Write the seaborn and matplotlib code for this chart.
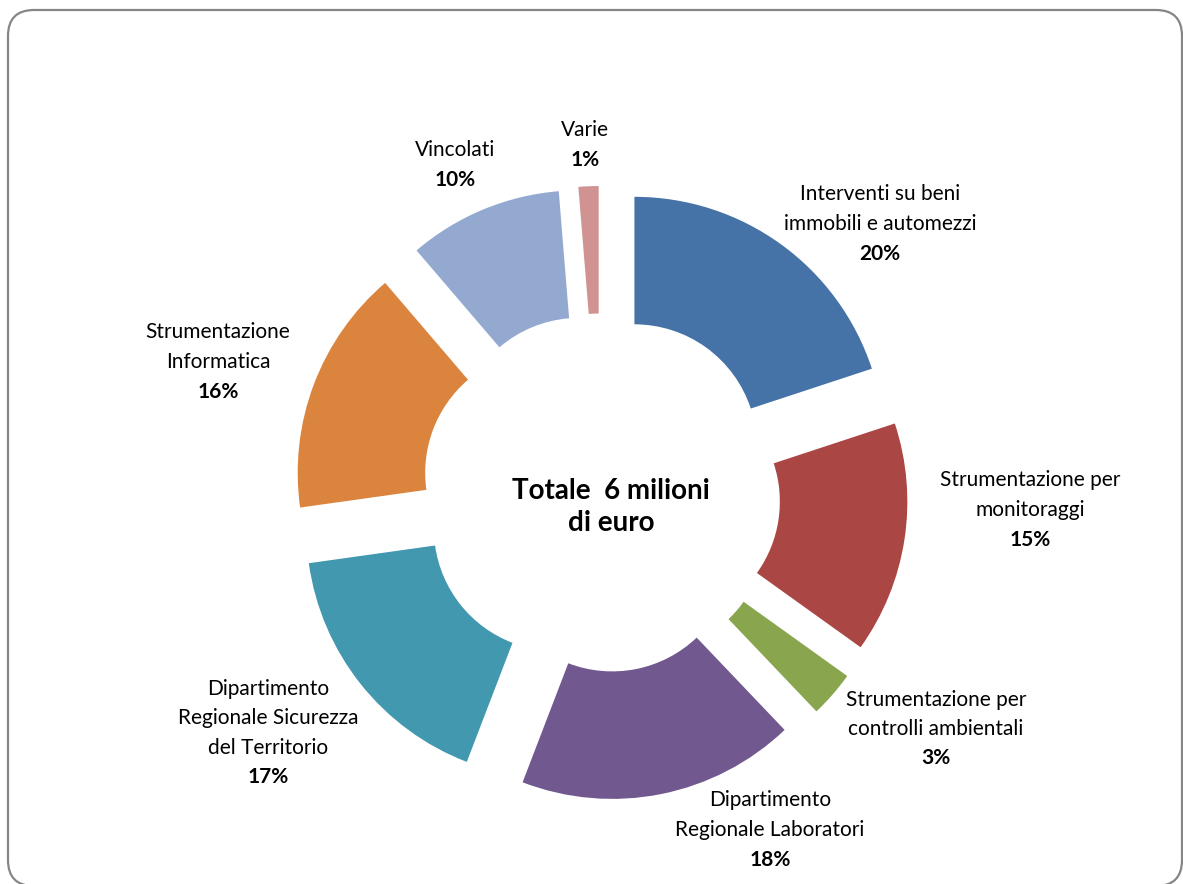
import matplotlib
matplotlib.use("Agg")
import matplotlib.pyplot as plt
from matplotlib.patches import FancyBboxPatch
import seaborn as sns
import numpy as np

# ---- data ----
categories = [
    "Interventi su beni\nimmobili e automezzi",
    "Strumentazione per\nmonitoraggi",
    "Strumentazione per\ncontrolli ambientali",
    "Dipartimento\nRegionale Laboratori",
    "Dipartimento\nRegionale Sicurezza\ndel Territorio",
    "Strumentazione\nInformatica",
    "Vincolati",
    "Varie",
]
shares = [20, 15, 3, 18, 17, 16, 10, 1.3]
pct_labels = ["20%", "15%", "3%", "18%", "17%", "16%", "10%", "1%"]
center_text = "Totale  6 milioni\ndi euro"

hex_colors = ["#4572A7", "#AA4643", "#89A54E", "#71588F",
              "#4198AF", "#DB843D", "#93A9CF", "#D19392"]

# label anchor (block centre) in data units, layout only
label_pos = [(1.116, 1.076), (1.716, -0.068), (1.34, -0.944), (0.676, -1.348),
             (-1.332, -0.96), (-1.532, 0.524), (-0.584, 1.312), (-0.064, 1.392)]

sns.set_theme(style="white")
plt.rcParams["font.family"] = ["Lato", "DejaVu Sans"]

W, H, DPI = 1183, 884, 100
fig = plt.figure(figsize=(W / DPI, H / DPI), dpi=DPI)
fig.patch.set_facecolor("white")

# scale: 250 px per unit, centre at (601, 493) px from top-left
S = 250.0
cx, cy = 601.0, 493.0
ax = fig.add_axes([0, 0, 1, 1])

palette = sns.color_palette(hex_colors)
ax.pie(shares, colors=palette, startangle=90, counterclock=False,
       radius=1.0, explode=[0.228] * len(shares),
       wedgeprops=dict(width=0.51, linewidth=0), frame=True)
ax.set_xlim(-cx / S, (W - cx) / S)
ax.set_ylim(-(H - cy) / S, cy / S)
ax.set_aspect("auto")
ax.axis("off")

step = 29.5 / S
fs = 15
for name, pct, (lx, ly) in zip(categories, pct_labels, label_pos):
    lines = name.split("\n") + [pct]
    n = len(lines)
    for i, ln in enumerate(lines):
        y = ly + ((n - 1) / 2 - i) * step
        bold = (i == n - 1)
        ax.text(lx, y, ln, ha="center", va="center", fontsize=fs,
                fontweight="bold" if bold else "normal", color="black")

ax.text(0.04, -0.056, center_text, ha="center", va="center",
        fontsize=20, fontweight="bold", color="black", linespacing=1.28)

# rounded border (display/pixel coords)
box = FancyBboxPatch((8, -2), 1174, 876,
                     boxstyle="round,pad=0,rounding_size=26",
                     transform=None, fill=False, edgecolor="#868686",
                     linewidth=1.6)
fig.patches.append(box)

fig.savefig("out.png", dpi=DPI, facecolor="white")
